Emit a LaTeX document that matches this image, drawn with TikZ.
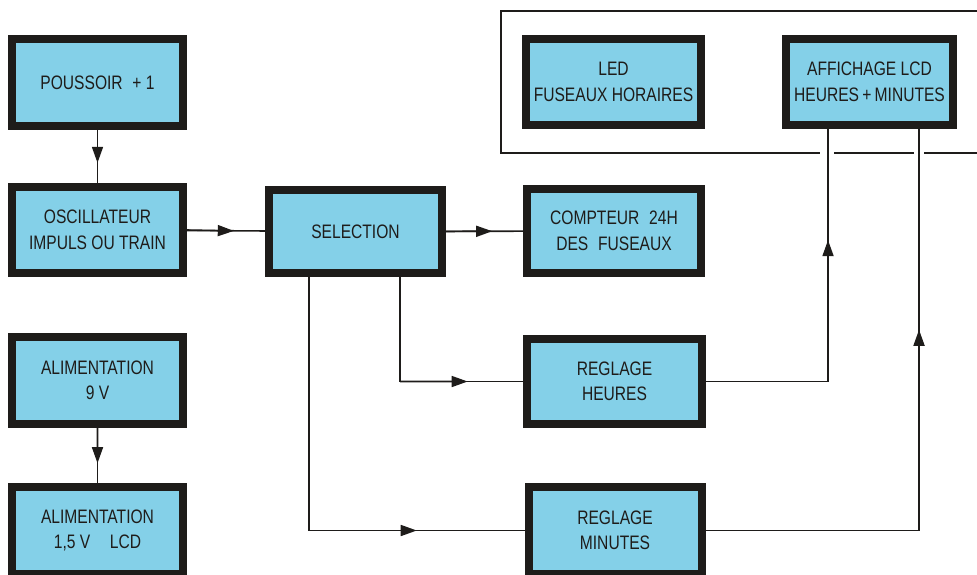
\documentclass[tikz,border=0pt]{standalone}
\usepackage{fontspec}
\setmainfont[FakeStretch=0.8]{Liberation Sans}
\usetikzlibrary{arrows.meta, calc}
\definecolor{cyanbloc}{RGB}{132,208,232}
\definecolor{encre}{RGB}{30,28,26}

\begin{document}
\begin{tikzpicture}[x=1pt, y=-1pt,
    bloc/.style={draw=encre, fill=cyanbloc, line width=8pt, inner sep=0pt,
      align=center, text=encre, font=\fontsize{19.5}{25.5}\selectfont},
    fil/.style={draw=encre, line width=1.6pt},
    fleche/.style={fil, -{Triangle[length=16pt, width=11pt]}}]
    \useasboundingbox (0,0) rectangle (977,574);
    \clip (0,0) rectangle (977,574);

    % cadre de l'affichage
    \draw[fil] (990,11) -- (501,11) -- (501,153) -- (820,153);
    \draw[fil] (834,153) -- (914,153);
    \draw[fil] (924,153) -- (990,153);

    % blocs
    \node[bloc, minimum width=171pt, minimum height=87pt] (pous) at (97.5,82.5) {POUSSOIR\enspace+ 1};
    \node[bloc, minimum width=171pt, minimum height=86pt] (osc) at (97.5,230) {OSCILLATEUR\\IMPULS OU TRAIN};
    \node[bloc, minimum width=173pt, minimum height=83pt] (sel) at (355.5,231.5) {SELECTION};
    \node[bloc, minimum width=175pt, minimum height=86pt] (led) at (613.5,82) {LED\\FUSEAUX HORAIRES};
    \node[bloc, minimum width=167pt, minimum height=86pt] (aff) at (869.5,82) {AFFICHAGE LCD\\HEURES\,+\,MINUTES};
    \node[bloc, minimum width=174pt, minimum height=84pt] (cpt) at (614,231) {COMPTEUR\enspace 24H\\DES\enspace FUSEAUX};
    \node[bloc, minimum width=171pt, minimum height=87pt] (alimA) at (97.5,380.5) {ALIMENTATION\\9 V};
    \node[bloc, minimum width=171pt, minimum height=87pt] (alimB) at (97.5,530.5) {ALIMENTATION\\1,5 V\quad LCD};
    \node[bloc, minimum width=175pt, minimum height=85pt] (heu) at (614.5,381.5) {REGLAGE\\HEURES};
    \node[bloc, minimum width=173pt, minimum height=87pt] (minu) at (615,530.5) {REGLAGE\\MINUTES};

    % points de depart et d'arrivee
    \coordinate (sA) at ($(sel.south west)!0.243!(sel.south east)$);
    \coordinate (sB) at ($(sel.south west)!0.746!(sel.south east)$);
    \coordinate (aA) at ($(aff.south west)!0.263!(aff.south east)$);
    \coordinate (aB) at ($(aff.south west)!0.783!(aff.south east)$);
    \coordinate (hG) at (sB |- heu.west);
    \coordinate (mG) at (sA |- minu.west);
    \coordinate (hD) at (aA |- heu.east);
    \coordinate (mD) at (aB |- minu.east);

    % liaisons
    \draw[fil] (pous) -- (osc);
    \draw[fleche] (pous.south) -- ($(pous.south)!0.62!(osc.north)$);
    \draw[fil] (osc) -- (sel);
    \draw[fleche] (osc.east) -- ($(osc.east)!0.6!(sel.west)$);
    \draw[fil] (sel) -- (cpt);
    \draw[fleche] (sel.east) -- ($(sel.east)!0.6!(cpt.west)$);
    \draw[fil] (alimA) -- (alimB);
    \draw[fleche] (alimA.south) -- ($(alimA.south)!0.64!(alimB.north)$);

    \draw[fil] (sB) -- (hG) -- (heu.west);
    \draw[fleche] (hG) -- ($(hG)!0.55!(heu.west)$);
    \draw[fil] (sA) -- (mG) -- (minu.west);
    \draw[fleche] (mG) -- ($(mG)!0.5!(minu.west)$);

    \draw[fil] (heu.east) -- (hD) -- (aA);
    \draw[fleche] (hD) -- ($(hD)!0.56!(aA)$);
    \draw[fil] (minu.east) -- (mD) -- (aB);
    \draw[fleche] (mD) -- ($(mD)!0.5!(aB)$);
\end{tikzpicture}
\end{document}
